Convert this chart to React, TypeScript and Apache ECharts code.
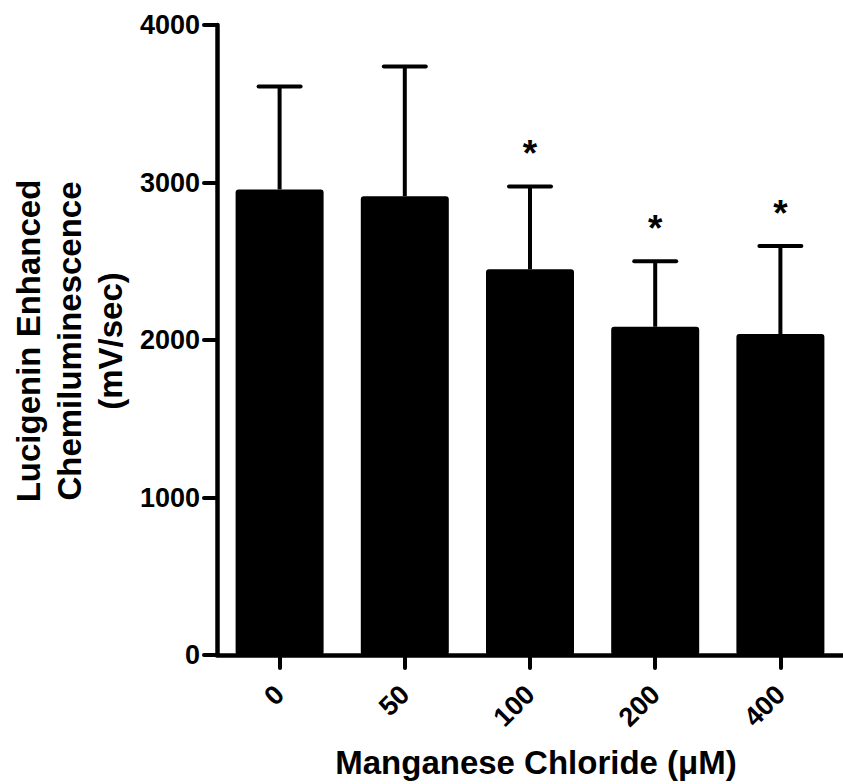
import React, { useEffect, useRef } from "react";
import * as echarts from "echarts";

const categories = ["0", "50", "100", "200", "400"];
const means = [2956, 2913, 2449, 2084, 2038];
const upperErrors = [654, 823, 526, 416, 559];
const significance = ["", "", "*", "*", "*"];
const yTicks = { min: 0, max: 4000, interval: 1000 };

const FONT = "'Liberation Sans', Arial, Helvetica, sans-serif";

export default function App() {
  const ref = useRef<HTMLDivElement>(null);
  useEffect(() => {
    if (!ref.current) return;
    const chart = echarts.init(ref.current, null, { renderer: "svg" });
    const errData = categories.map((c, i) => [i, means[i], means[i] + upperErrors[i]]);
    chart.setOption({
      animation: false,
      backgroundColor: "#ffffff",
      textStyle: { fontFamily: FONT },
      grid: { left: 217, top: 25, width: 630, height: 632, containLabel: false },
      xAxis: {
        type: "category",
        data: categories,
        boundaryGap: true,
        axisLine: { show: true, lineStyle: { color: "#000", width: 4.5 } },
        axisTick: { show: true, alignWithLabel: true, length: 13, lineStyle: { color: "#000", width: 4, cap: "round" } },
        axisLabel: { rotate: 45, margin: 35, color: "#000", fontSize: 27, fontWeight: "bold", fontFamily: FONT },
        name: "Manganese Chloride (μM)",
        nameLocation: "middle",
        nameGap: 91,
        nameTextStyle: {
          color: "#000",
          fontSize: 33,
          fontWeight: "bold",
          fontFamily: FONT,
          padding: [0, 0, 0, 12],
        },
        splitLine: { show: false },
      },
      yAxis: {
        type: "value",
        min: yTicks.min,
        max: yTicks.max,
        interval: yTicks.interval,
        axisLine: { show: true, lineStyle: { color: "#000", width: 4.5 } },
        axisTick: { show: true, length: 13, lineStyle: { color: "#000", width: 4, cap: "round" } },
        axisLabel: {
          margin: 17,
          color: "#000",
          fontSize: 27,
          fontWeight: "bold",
          fontFamily: FONT,
          formatter: (v: number) => String(v),
        },
        splitLine: { show: false },
      },
      graphic: [
        {
          type: "text",
          x: 69,
          y: 341,
          rotation: Math.PI / 2,
          style: {
            text: "Lucigenin Enhanced\nChemiluminescence\n(mV/sec)",
            align: "center",
            verticalAlign: "middle",
            lineHeight: 41,
            fontSize: 33,
            fontWeight: "bold",
            fontFamily: FONT,
            fill: "#000",
          },
        },
      ],
      series: [
        {
          type: "bar",
          data: means,
          barWidth: 88,
          itemStyle: { color: "#000", borderRadius: 3 },
          z: 2,
        },
        {
          type: "custom",
          data: errData,
          z: 3,
          renderItem: (params: any, api: any) => {
            const i = api.value(0);
            const top = api.coord([i, api.value(1)]);
            const up = api.coord([i, api.value(2)]);
            const star = significance[params.dataIndex];
            const children: any[] = [
              {
                type: "line",
                shape: { x1: top[0], y1: top[1], x2: up[0], y2: up[1] },
                style: { stroke: "#000", lineWidth: 4 },
              },
              {
                type: "line",
                shape: { x1: up[0] - 21, y1: up[1], x2: up[0] + 21, y2: up[1] },
                style: { stroke: "#000", lineWidth: 4, lineCap: "round" },
              },
            ];
            if (star) {
              children.push({
                type: "text",
                x: up[0],
                y: up[1] - 14,
                style: {
                  text: star,
                  align: "center",
                  verticalAlign: "bottom",
                  fontSize: 37,
                  fontWeight: "bold",
                  fontFamily: FONT,
                  fill: "#000",
                },
              });
            }
            return { type: "group", children };
          },
        },
      ],
    });
    return () => chart.dispose();
  }, []);
  return (
    <div
      ref={ref}
      style={{ position: "absolute", left: 0, top: 0, width: 843, height: 784, background: "#fff" }}
    />
  );
}
